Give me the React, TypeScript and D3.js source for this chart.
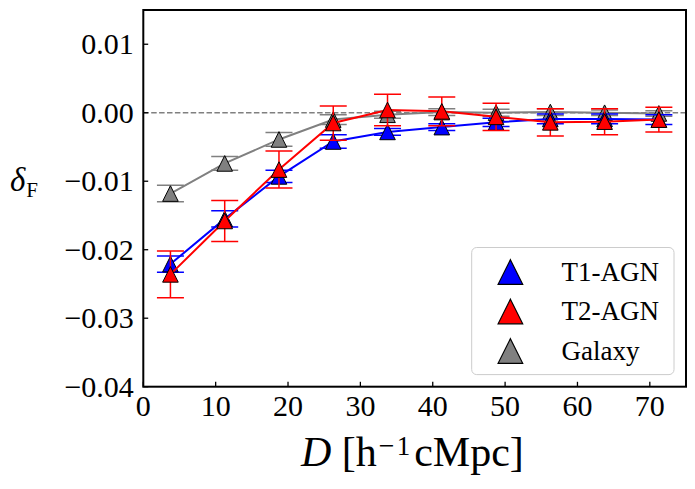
import React from "react";
import * as d3 from "d3";

const xVals = [3.75, 11.25, 18.75, 26.25, 33.75, 41.25, 48.75, 56.25, 63.75, 71.25];
const t1Vals = [-0.0221, -0.0155, -0.0093, -0.0042, -0.0028, -0.0021, -0.0014, -0.0009, -0.0009, -0.001];
const t1Errs = [0.0012, 0.0012, 0.0009, 0.001, 0.0005, 0.0005, 0.0006, 0.0007, 0.0007, 0.0007];
const t2Vals = [-0.0236, -0.0158, -0.0083, -0.0015, 0.0004, 0.0002, -0.0006, -0.0014, -0.0013, -0.001];
const t2Errs = [0.0034, 0.003, 0.0027, 0.0025, 0.0023, 0.0021, 0.002, 0.002, 0.0019, 0.0018];
const galVals = [-0.0118, -0.0074, -0.0039, -0.001, -0.0003, 0.0001, 0.0, 0.0001, 0.0, -0.0001];
const galErrs = [0.0012, 0.001, 0.001, 0.0007, 0.0005, 0.0005, 0.0005, 0.0005, 0.0004, 0.0004];

const xTicks = [0, 10, 20, 30, 40, 50, 60, 70];
const yTicks = [0.01, 0.0, -0.01, -0.02, -0.03, -0.04];
const yTickLabels = ["0.01", "0.00", "\u22120.01", "\u22120.02", "\u22120.03", "\u22120.04"];

const seriesNames = ["T1-AGN", "T2-AGN", "Galaxy"];
const seriesColors = ["#0000ff", "#ff0000", "#808080"];

const FONT = '"Liberation Serif", "Times New Roman", Times, serif';

function tri(cx: number, cy: number, h: number) {
  return `M${cx},${cy - h}L${cx + h},${cy + h}L${cx - h},${cy + h}Z`;
}

export default function App() {
  const W = 695,
    H = 489;
  const L = 143.3,
    R = 686,
    T = 10,
    B = 386.7;
  const x = d3.scaleLinear().domain([0, 75]).range([L, R]);
  const y = d3.scaleLinear().domain([-0.04, 0.015]).range([B, T]);

  const series = [
    { name: seriesNames[0], color: seriesColors[0], vals: t1Vals, errs: t1Errs },
    { name: seriesNames[1], color: seriesColors[1], vals: t2Vals, errs: t2Errs },
    { name: seriesNames[2], color: seriesColors[2], vals: galVals, errs: galErrs },
  ];
  const drawOrder = [2, 0, 1];

  const line = d3
    .line<number>()
    .x((_, i) => x(xVals[i]))
    .y((d) => y(d));

  const cap = 13.5;
  const ms = 7.8;
  const ts = { fontFamily: FONT };

  return (
    <svg
      width={W}
      height={H}
      style={{ position: "absolute", left: 0, top: 0, background: "#fff", fontFamily: FONT }}
    >
      <rect x={0} y={0} width={W} height={H} fill="#fff" />
      <defs>
        <clipPath id="plot">
          <rect x={L} y={T} width={R - L} height={B - T} />
        </clipPath>
      </defs>
      <line
        x1={L}
        x2={R}
        y1={y(0)}
        y2={y(0)}
        stroke="#808080"
        strokeWidth={1.5}
        strokeDasharray="5.5 2.4"
      />
      <g clipPath="url(#plot)">
        {drawOrder.map((si) => {
          const s = series[si];
          return (
            <g key={s.name}>
              {s.vals.map((v, i) => {
                const cx = x(xVals[i]);
                const y1 = y(v + s.errs[i]);
                const y2 = y(v - s.errs[i]);
                return (
                  <g key={i} stroke={s.color} strokeWidth={1.5}>
                    <line x1={cx} x2={cx} y1={y1} y2={y2} />
                    <line x1={cx - cap} x2={cx + cap} y1={y1} y2={y1} />
                    <line x1={cx - cap} x2={cx + cap} y1={y2} y2={y2} />
                  </g>
                );
              })}
              <path d={line(s.vals) || ""} fill="none" stroke={s.color} strokeWidth={2} />
              {s.vals.map((v, i) => (
                <path
                  key={"m" + i}
                  d={tri(x(xVals[i]), y(v), ms)}
                  fill={s.color}
                  stroke="#000"
                  strokeWidth={1}
                />
              ))}
            </g>
          );
        })}
      </g>
      <rect x={L} y={T} width={R - L} height={B - T} fill="none" stroke="#000" strokeWidth={2} />
      {xTicks.map((t) => (
        <g key={"x" + t}>
          <line x1={x(t)} x2={x(t)} y1={B} y2={B - 4.9} stroke="#000" strokeWidth={1.3} />
          <text x={x(t)} y={B + 29.5} fontSize={30} textAnchor="middle" fill="#000" style={ts}>
            {String(t)}
          </text>
        </g>
      ))}
      {yTicks.map((t, i) => (
        <g key={"y" + i}>
          <line x1={L} x2={L + 4.9} y1={y(t)} y2={y(t)} stroke="#000" strokeWidth={1.3} />
          <text x={L - 9.5} y={y(t) + 10} fontSize={30} textAnchor="end" fill="#000" style={ts}>
            {yTickLabels[i]}
          </text>
        </g>
      ))}
      <text x={10} y={190.5} fontSize={33} fill="#000" style={ts}>
        <tspan fontStyle="italic">δ</tspan>
        <tspan fontSize={21} dy={6} dx={1}>
          F
        </tspan>
      </text>
      <text x={301} y={466} fontSize={42} fill="#000" style={ts}>
        <tspan fontStyle="italic">D</tspan>
        <tspan> [h</tspan>
        <tspan fontSize={28} dy={-11} dx={2}>
          {"\u2212"}
        </tspan>
        <tspan fontSize={27} dx={2}>
          1
        </tspan>
        <tspan dy={11} dx={4}>
          cMpc]
        </tspan>
      </text>
      <rect
        x={471.7}
        y={247.5}
        width={674 - 471.7}
        height={374.6 - 247.5}
        rx={5}
        fill="#fff"
        fillOpacity={0.8}
        stroke="#cccccc"
        strokeWidth={1}
      />
      {series.map((s, i) => {
        const ly = 272 + i * 39.5;
        return (
          <g key={"lg" + s.name}>
            <path d={tri(510.4, ly, 12.3)} fill={s.color} stroke="#000" strokeWidth={1.2} />
            <text x={561.5} y={ly + 8.5} fontSize={27} fill="#000" style={ts}>
              {s.name}
            </text>
          </g>
        );
      })}
    </svg>
  );
}
